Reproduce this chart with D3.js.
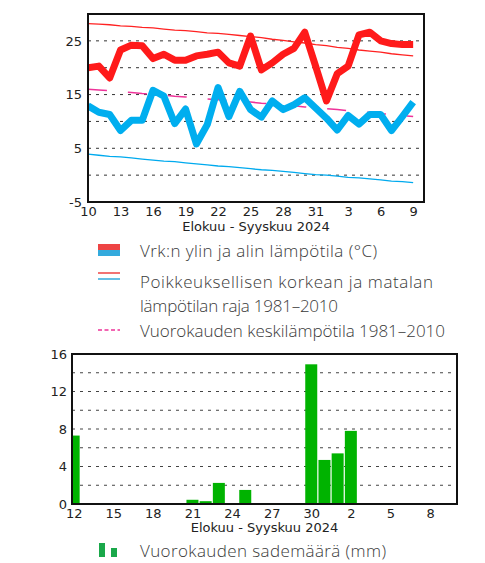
<!DOCTYPE html>
<html>
<head>
<meta charset="utf-8">
<script src="https://cdn.jsdelivr.net/npm/d3@7"></script>
<style>
    body { margin: 0; background: #fff; }
    .axis text { font-family: "DejaVu Sans", sans-serif; font-size: 13px; fill: #222; }
    .axis-label { font-family: "DejaVu Sans", sans-serif; font-size: 13px; fill: #222; }
    .legend { font-family: "Open Sans", sans-serif; font-weight: 300; font-size: 17px; fill: #3a3a3a; }
</style>
</head>
<body>
<svg width="485" height="563"></svg>
<script>
// temperature data, 10.8. - 9.9.2024
const tempStart = "2024-08-10";
const tempMax = [20.0, 20.3, 18.1, 23.3, 24.2, 24.1, 21.7, 22.5, 21.4, 21.4, 22.2, 22.5, 22.9, 20.9, 20.3, 25.9,
    19.6, 20.9, 22.5, 23.6, 26.6, 20.3, 13.8, 18.9, 20.3, 26.1, 26.6, 25.0, 24.5, 24.3, 24.3];
const tempMin = [12.9, 11.7, 11.3, 8.3, 10.2, 10.2, 15.8, 14.7, 9.6, 12.3, 5.8, 9.4, 16.3, 10.9, 15.6, 12.2,
    10.8, 13.8, 12.2, 13.1, 14.4, 12.5, 10.6, 8.4, 11.1, 9.5, 11.3, 11.3, 8.3, 10.9, 13.6];
const extremeHigh = [28.2, 28.1, 28.0, 27.8, 27.7, 27.5, 27.4, 27.2, 27.0, 26.9, 26.7, 26.5, 26.4, 26.2, 26.0, 25.8,
    25.6, 25.3, 25.1, 24.8, 24.6, 24.3, 24.1, 23.8, 23.6, 23.3, 23.1, 22.9, 22.6, 22.4, 22.2];
const extremeLow = [3.9, 3.7, 3.5, 3.4, 3.2, 3.0, 2.8, 2.6, 2.5, 2.3, 2.1, 1.9, 1.7, 1.6, 1.4, 1.2,
    1.0, 0.9, 0.7, 0.5, 0.3, 0.1, 0.0, -0.2, -0.4, -0.5, -0.7, -0.9, -1.1, -1.2, -1.4];
const meanTemp = [16.0, 15.85, 15.7, 15.5, 15.4, 15.2, 15.05, 14.9, 14.7, 14.55, 14.4, 14.2, 14.05, 13.9, 13.75, 13.6,
    13.4, 13.25, 13.05, 12.9, 12.7, 12.55, 12.35, 12.2, 12.0, 11.8, 11.65, 11.45, 11.3, 11.1, 10.9];
const tempTicks = ["2024-08-10", "2024-08-13", "2024-08-16", "2024-08-19", "2024-08-22", "2024-08-25",
    "2024-08-28", "2024-08-31", "2024-09-03", "2024-09-06", "2024-09-09"];
const tempYTicks = [-5, 5, 15, 25];
const tempGrid = [0, 5, 10, 15, 20, 25];

// precipitation data
const rainDates = ["2024-08-12", "2024-08-21", "2024-08-22", "2024-08-23", "2024-08-25",
    "2024-08-30", "2024-08-31", "2024-09-01", "2024-09-02"];
const rainValues = [7.3, 0.45, 0.3, 2.25, 1.5, 14.9, 4.7, 5.4, 7.8];
const rainTicks = ["2024-08-12", "2024-08-15", "2024-08-18", "2024-08-21", "2024-08-24", "2024-08-27",
    "2024-08-30", "2024-09-02", "2024-09-05", "2024-09-08"];
const rainYTicks = [0, 4, 8, 12, 16];
const rainGrid = [2, 4, 6, 8, 10, 12, 14];

const xLabel = "Elokuu - Syyskuu 2024";

const svg = d3.select("svg");
const parse = d3.timeParse("%Y-%m-%d");
const fmtDay = d3.timeFormat("%-d");
const fmtNum = d => String(d);   // plain hyphen for negatives

// ---------- temperature chart ----------
const t = { left: 88, right: 424, top: 14, bottom: 202 };
const t0 = parse(tempStart);
const tempDates = tempMax.map((d, i) => d3.timeDay.offset(t0, i));

const xT = d3.scaleTime()
    .domain([t0, d3.timeDay.offset(t0, 31)])
    .range([t.left, t.right]);
const yT = d3.scaleLinear()
    .domain([-5, 30])
    .range([t.bottom, t.top]);

svg.append("clipPath").attr("id", "clipT")
    .append("rect")
    .attr("x", t.left).attr("y", t.top)
    .attr("width", t.right - t.left).attr("height", t.bottom - t.top);

// grid
svg.append("g").selectAll("line")
    .data(tempGrid)
    .join("line")
    .attr("x1", t.left).attr("x2", t.right)
    .attr("y1", d => yT(d)).attr("y2", d => yT(d))
    .attr("stroke", "#333")
    .attr("stroke-width", 1)
    .attr("stroke-dasharray", "3,5");

const lineT = arr => d3.line()
    .x((d, i) => xT(tempDates[i]))
    .y(d => yT(d))(arr);

const gT = svg.append("g").attr("clip-path", "url(#clipT)");

gT.append("path").attr("d", lineT(extremeHigh))
    .attr("fill", "none").attr("stroke", "#ff2222").attr("stroke-width", 1.3);
gT.append("path").attr("d", lineT(extremeLow))
    .attr("fill", "none").attr("stroke", "#00aaee").attr("stroke-width", 1.3);
gT.append("path").attr("d", lineT(meanTemp))
    .attr("fill", "none").attr("stroke", "#ee3399").attr("stroke-width", 1.5)
    .attr("stroke-dasharray", "19,21");
gT.append("path").attr("d", lineT(tempMin))
    .attr("fill", "none").attr("stroke", "#00aeef").attr("stroke-width", 7)
    .attr("stroke-linejoin", "round");
gT.append("path").attr("d", lineT(tempMax))
    .attr("fill", "none").attr("stroke", "#ff1a1a").attr("stroke-width", 7)
    .attr("stroke-linejoin", "round");

// axes
svg.append("g")
    .attr("class", "axis")
    .attr("transform", `translate(${t.left},0)`)
    .call(d3.axisLeft(yT).tickValues(tempYTicks).tickFormat(fmtNum).tickSize(0).tickPadding(6))
    .call(g => g.select(".domain").remove());

svg.append("g")
    .attr("class", "axis")
    .attr("transform", `translate(0,${t.bottom})`)
    .call(d3.axisBottom(xT).tickValues(tempTicks.map(parse)).tickFormat(fmtDay).tickSize(0).tickPadding(5))
    .call(g => g.select(".domain").remove());

svg.append("rect")
    .attr("x", t.left).attr("y", t.top)
    .attr("width", t.right - t.left).attr("height", t.bottom - t.top)
    .attr("fill", "none").attr("stroke", "#111").attr("stroke-width", 2);

svg.append("text")
    .attr("class", "axis-label")
    .attr("x", (t.left + t.right) / 2)
    .attr("y", 231)
    .attr("text-anchor", "middle")
    .text(xLabel);

// ---------- legend (temperature) ----------
svg.append("rect").attr("x", 98).attr("y", 244).attr("width", 22).attr("height", 6).attr("fill", "#ee4444");
svg.append("rect").attr("x", 98).attr("y", 250).attr("width", 22).attr("height", 6).attr("fill", "#33aadd");
svg.append("text").attr("class", "legend").attr("x", 140).attr("y", 257)
    .attr("textLength", 237).attr("lengthAdjust", "spacing")
    .text("Vrk:n ylin ja alin lämpötila (°C)");

svg.append("line").attr("x1", 98).attr("x2", 120).attr("y1", 273).attr("y2", 273)
    .attr("stroke", "#ee4444").attr("stroke-width", 1.5);
svg.append("line").attr("x1", 98).attr("x2", 120).attr("y1", 279).attr("y2", 279)
    .attr("stroke", "#33aadd").attr("stroke-width", 1.5);
svg.append("text").attr("class", "legend").attr("x", 140).attr("y", 288)
    .attr("textLength", 293).attr("lengthAdjust", "spacing")
    .text("Poikkeuksellisen korkean ja matalan");
svg.append("text").attr("class", "legend").attr("x", 140).attr("y", 312)
    .attr("textLength", 198).attr("lengthAdjust", "spacing")
    .text("lämpötilan raja 1981–2010");

svg.append("line").attr("x1", 98).attr("x2", 120).attr("y1", 330).attr("y2", 330)
    .attr("stroke", "#ee3399").attr("stroke-width", 1.5).attr("stroke-dasharray", "4,2.5");
svg.append("text").attr("class", "legend").attr("x", 140).attr("y", 337)
    .attr("textLength", 305).attr("lengthAdjust", "spacing")
    .text("Vuorokauden keskilämpötila 1981–2010");

// ---------- precipitation chart ----------
const r = { left: 72, right: 457, top: 354, bottom: 504 };

const xR = d3.scaleTime()
    .domain([new Date(2024, 7, 12, -3), new Date(2024, 8, 10, 1)])
    .range([r.left, r.right]);
const yR = d3.scaleLinear()
    .domain([0, 16])
    .range([r.bottom, r.top]);

svg.append("clipPath").attr("id", "clipR")
    .append("rect")
    .attr("x", r.left).attr("y", r.top)
    .attr("width", r.right - r.left).attr("height", r.bottom - r.top);

svg.append("g").selectAll("line")
    .data(rainGrid)
    .join("line")
    .attr("x1", r.left).attr("x2", r.right)
    .attr("y1", d => yR(d)).attr("y2", d => yR(d))
    .attr("stroke", "#444")
    .attr("stroke-width", 1)
    .attr("stroke-dasharray", "3,5");

const barW = 12;
svg.append("g")
    .attr("clip-path", "url(#clipR)")
    .selectAll("rect")
    .data(rainValues)
    .join("rect")
    .attr("x", (d, i) => xR(parse(rainDates[i])) - barW / 2)
    .attr("y", d => yR(d))
    .attr("width", barW)
    .attr("height", d => yR(0) - yR(d))
    .attr("fill", "#00b300");

svg.append("g")
    .attr("class", "axis")
    .attr("transform", `translate(${r.left},0)`)
    .call(d3.axisLeft(yR).tickValues(rainYTicks).tickFormat(fmtNum).tickSize(0).tickPadding(5))
    .call(g => g.select(".domain").remove());

svg.append("g")
    .attr("class", "axis")
    .attr("transform", `translate(0,${r.bottom})`)
    .call(d3.axisBottom(xR).tickValues(rainTicks.map(parse)).tickFormat(fmtDay).tickSize(0).tickPadding(5))
    .call(g => g.select(".domain").remove());

svg.append("rect")
    .attr("x", r.left).attr("y", r.top)
    .attr("width", r.right - r.left).attr("height", r.bottom - r.top)
    .attr("fill", "none").attr("stroke", "#111").attr("stroke-width", 2);

svg.append("text")
    .attr("class", "axis-label")
    .attr("x", (r.left + r.right) / 2)
    .attr("y", 532)
    .attr("text-anchor", "middle")
    .text(xLabel);

// legend (precipitation)
svg.append("rect").attr("x", 99).attr("y", 543).attr("width", 6).attr("height", 14).attr("fill", "#1aa84a");
svg.append("rect").attr("x", 111).attr("y", 548).attr("width", 6).attr("height", 9).attr("fill", "#1aa84a");
svg.append("text").attr("class", "legend").attr("x", 140).attr("y", 557)
    .attr("textLength", 246).attr("lengthAdjust", "spacing")
    .text("Vuorokauden sademäärä (mm)");
</script>
</body>
</html>
